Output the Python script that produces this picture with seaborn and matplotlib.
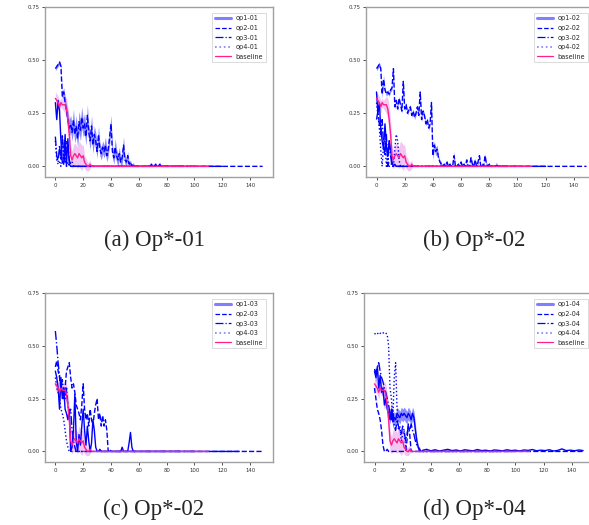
import matplotlib
matplotlib.use('Agg')
import numpy as np
import matplotlib.pyplot as plt
import seaborn as sns
from matplotlib.lines import Line2D

# axis ticks and captions
x_ticks = [0, 20, 40, 60, 80, 100, 120, 140]
y_ticks = [0.00, 0.25, 0.50, 0.75]
captions = ['(a) Op*-01', '(b) Op*-02', '(c) Op*-02', '(d) Op*-04']
suffixes = ['01', '02', '03', '04']

# baseline is the same run in every panel
baseline = [0.32, 0.31, 0.30, 0.28, 0.30, 0.29, 0.29, 0.29, 0.27, 0.22, 0.15,
            0.05, 0.03, 0.05, 0.06, 0.05, 0.04, 0.06, 0.05, 0.04, 0.05, 0.02,
            0.01, 0.0, 0.0, 0.01, 0.0]
baseline_err = [0.03, 0.03, 0.03, 0.03, 0.02, 0.02, 0.03, 0.04, 0.05, 0.06,
                0.07, 0.05, 0.04, 0.05, 0.05, 0.05, 0.05, 0.06, 0.06, 0.06,
                0.05, 0.03, 0.03, 0.02, 0.02, 0.02, 0.0]
baseline_end = 110

# (a) op*-01
a_op1 = [0.30, 0.22, 0.31, 0.26, 0.12, 0.02, 0.01, 0.15, 0.0, 0.13, 0.01, 0.0]
a_op2 = [0.46, 0.47, 0.48, 0.49, 0.47, 0.33, 0.35, 0.30, 0.26, 0.22, 0.18,
         0.20, 0.16, 0.22, 0.15, 0.19, 0.13, 0.21, 0.17, 0.23, 0.18, 0.20,
         0.14, 0.24, 0.16, 0.12, 0.19, 0.10, 0.15, 0.12, 0.07, 0.15, 0.08,
         0.06, 0.09, 0.07, 0.10, 0.05, 0.08, 0.14, 0.20, 0.07, 0.04, 0.09,
         0.05, 0.03, 0.06, 0.02, 0.04, 0.10, 0.03, 0.02, 0.05, 0.01, 0.02,
         0.0, 0.01, 0.0, 0.0, 0.0, 0.0, 0.0, 0.0, 0.0, 0.0, 0.0, 0.0, 0.0,
         0.0, 0.01, 0.0, 0.0, 0.01, 0.0, 0.0, 0.01, 0.0, 0.0]
a_op2_err = [0.01, 0.01, 0.01, 0.01, 0.01, 0.02, 0.02, 0.03, 0.03, 0.04, 0.04,
             0.04, 0.04, 0.05, 0.04, 0.05, 0.04, 0.05, 0.05, 0.05, 0.04, 0.05,
             0.04, 0.05, 0.04, 0.04, 0.05, 0.04, 0.04, 0.04, 0.03, 0.04, 0.03,
             0.03, 0.03, 0.03, 0.04, 0.03, 0.03, 0.04, 0.04, 0.03, 0.03, 0.04,
             0.03, 0.03, 0.03, 0.02, 0.03, 0.04, 0.02, 0.02, 0.02, 0.01, 0.01,
             0.0, 0.01, 0.0, 0.0, 0.0, 0.0, 0.0, 0.0, 0.0, 0.0, 0.0, 0.0, 0.0,
             0.0, 0.01, 0.0, 0.0, 0.01, 0.0, 0.0, 0.01, 0.0, 0.0]
a_op3 = [0.14, 0.05, 0.02, 0.10, 0.03, 0.15, 0.06, 0.02, 0.12, 0.10, 0.03,
         0.01, 0.02, 0.0]
a_op4 = [0.12, 0.03, 0.01, 0.02, 0.0, 0.14, 0.02, 0.13, 0.0, 0.02, 0.0]
a_ends = [120, 149, 100, 90]

# (b) op*-02
b_op1 = [0.35, 0.25, 0.30, 0.18, 0.12, 0.08, 0.20, 0.10, 0.05, 0.12, 0.08,
         0.02, 0.0, 0.01, 0.0]
b_op2 = [0.46, 0.47, 0.48, 0.46, 0.34, 0.41, 0.36, 0.34, 0.35, 0.34, 0.36,
         0.37, 0.46, 0.28, 0.31, 0.27, 0.32, 0.29, 0.26, 0.40, 0.27, 0.29,
         0.25, 0.27, 0.28, 0.24, 0.26, 0.23, 0.25, 0.28, 0.24, 0.35, 0.22,
         0.26, 0.24, 0.20, 0.22, 0.18, 0.20, 0.30, 0.05, 0.10, 0.07, 0.08,
         0.04, 0.02, 0.01, 0.0, 0.01, 0.0, 0.02, 0.0, 0.01, 0.0, 0.0, 0.05,
         0.0, 0.0, 0.01, 0.0, 0.02, 0.0, 0.01, 0.0, 0.03, 0.0, 0.0, 0.04,
         0.01, 0.0, 0.03, 0.0, 0.02, 0.05, 0.0, 0.01, 0.0, 0.05, 0.01, 0.0,
         0.01, 0.0, 0.0, 0.0, 0.0, 0.01, 0.0]
b_op2_err = [0.01, 0.01, 0.01, 0.01, 0.02, 0.02, 0.01, 0.01, 0.01, 0.01, 0.01,
             0.01, 0.01, 0.01, 0.01, 0.01, 0.01, 0.01, 0.01, 0.01, 0.01, 0.01,
             0.01, 0.01, 0.01, 0.01, 0.01, 0.01, 0.01, 0.01, 0.01, 0.01, 0.01,
             0.01, 0.01, 0.01, 0.01, 0.01, 0.01, 0.02, 0.02, 0.02, 0.02, 0.02,
             0.01, 0.01, 0.01, 0.0, 0.01, 0.0, 0.01, 0.0, 0.01, 0.0, 0.0, 0.02,
             0.0, 0.0, 0.01, 0.0, 0.01, 0.0, 0.01, 0.0, 0.01, 0.0, 0.0, 0.01,
             0.01, 0.0, 0.01, 0.0, 0.01, 0.01, 0.0, 0.01, 0.0, 0.01, 0.01, 0.0,
             0.01, 0.0, 0.0, 0.0, 0.0, 0.01, 0.0]
b_op3 = [0.22, 0.26, 0.20, 0.15, 0.22, 0.10, 0.05, 0.15, 0.0, 0.12, 0.05, 0.0]
b_op4 = [0.30, 0.24, 0.18, 0.08, 0.0, 0.10, 0.12, 0.0, 0.05, 0.0, 0.0, 0.02,
         0.0, 0.08, 0.15, 0.12, 0.03, 0.0]
b_ends = [120, 149, 100, 90]

# (c) op*-03
c_op1 = [0.38, 0.35, 0.30, 0.20, 0.35, 0.25, 0.30, 0.20, 0.18, 0.15, 0.20,
         0.0, 0.02, 0.10, 0.27, 0.05, 0.0, 0.08, 0.03, 0.12, 0.20, 0.10, 0.03,
         0.12, 0.05, 0.0, 0.04, 0.15, 0.10, 0.02, 0.0, 0.0, 0.01, 0.0, 0.0,
         0.0, 0.0, 0.0, 0.0, 0.0, 0.0, 0.0, 0.0, 0.0, 0.0, 0.0, 0.0, 0.0,
         0.02, 0.0, 0.0, 0.0, 0.0, 0.04, 0.09, 0.02, 0.0]
c_op2 = [0.40, 0.43, 0.38, 0.35, 0.30, 0.28, 0.25, 0.30, 0.38, 0.40, 0.42,
         0.35, 0.30, 0.32, 0.28, 0.22, 0.20, 0.18, 0.15, 0.22, 0.32, 0.20,
         0.15, 0.18, 0.12, 0.20, 0.15, 0.12, 0.18, 0.22, 0.25, 0.15, 0.18,
         0.12, 0.17, 0.12, 0.15, 0.10, 0.0, 0.01, 0.0]
c_op3 = [0.57, 0.50, 0.42, 0.36, 0.30, 0.34, 0.28, 0.25, 0.30, 0.22, 0.18,
         0.20, 0.10, 0.05, 0.02, 0.0]
c_op4 = [0.35, 0.30, 0.28, 0.25, 0.20, 0.18, 0.15, 0.10, 0.05, 0.02, 0.0]
c_ends = [132, 149, 100, 90]

# (d) op*-04
d_op1 = [0.38, 0.35, 0.40, 0.30, 0.36, 0.28, 0.30, 0.22, 0.25, 0.20, 0.18,
         0.15, 0.20, 0.14, 0.16, 0.15, 0.18, 0.17, 0.16, 0.18, 0.17, 0.18,
         0.17, 0.16, 0.18, 0.17, 0.15, 0.18, 0.16, 0.10, 0.05, 0.02, 0.01,
         0.0]
d_op1_err = [0.02, 0.02, 0.02, 0.02, 0.02, 0.02, 0.02, 0.02, 0.02, 0.02,
             0.02, 0.02, 0.03, 0.03, 0.03, 0.03, 0.03, 0.03, 0.03, 0.03, 0.03,
             0.03, 0.03, 0.03, 0.03, 0.03, 0.03, 0.03, 0.03, 0.03, 0.02, 0.01,
             0.01, 0.0]
d_tail_steps = list(range(34, 149, 3))
d_tail = [0.005, 0.01, 0.003, 0.008, 0.002, 0.006, 0.01, 0.004, 0.007, 0.002,
          0.008, 0.005, 0.003, 0.009, 0.004, 0.006, 0.002, 0.007, 0.005,
          0.003, 0.008, 0.004, 0.006, 0.002, 0.007, 0.005, 0.009, 0.003,
          0.006, 0.004, 0.008, 0.002, 0.005, 0.012, 0.004, 0.006, 0.003,
          0.007, 0.004]
d_op2 = [0.30, 0.25, 0.20, 0.18, 0.15, 0.10, 0.03, 0.0, 0.0, 0.01, 0.0, 0.0,
         0.0, 0.0, 0.0, 0.0, 0.0, 0.0, 0.0, 0.0, 0.0, 0.0, 0.0, 0.05, 0.13,
         0.08, 0.0]
d_op3 = [0.39, 0.37, 0.40, 0.42, 0.38, 0.35, 0.33, 0.30, 0.28, 0.25, 0.22,
         0.18, 0.15, 0.20, 0.12, 0.10, 0.15, 0.12, 0.10, 0.08, 0.12, 0.10,
         0.05, 0.08, 0.12, 0.10, 0.13, 0.10, 0.08, 0.05, 0.03, 0.02, 0.0]
d_op4 = [0.555, 0.56, 0.555, 0.565, 0.56, 0.555, 0.56, 0.565, 0.56, 0.555,
         0.50, 0.30, 0.25, 0.15, 0.35, 0.42, 0.20, 0.10, 0.12, 0.05, 0.08,
         0.10, 0.03, 0.0]
d_ends = [None, 149, 100, 90]

panels = [
    ([a_op1, a_op2, a_op3, a_op4], [None, a_op2_err, None, None], a_ends),
    ([b_op1, b_op2, b_op3, b_op4], [None, b_op2_err, None, None], b_ends),
    ([c_op1, c_op2, c_op3, c_op4], [None, None, None, None], c_ends),
    ([d_op1, d_op2, d_op3, d_op4], [d_op1_err, None, None, None], d_ends),
]

styles = ['-', '--', '-.', ':']
blue = '#0000ff'
pink = '#ff1f8e'

sns.set_style('white')
plt.rcParams['font.family'] = ['DejaVu Sans']

fig = plt.figure(figsize=(5.89, 5.25), dpi=100)
W, H = 589.0, 525.0
boxes = [[0.0764, 0.6629, 0.3871, 0.3238],
         [0.6214, 0.6629, 0.3922, 0.3238],
         [0.0764, 0.1200, 0.3871, 0.3219],
         [0.6180, 0.1200, 0.3922, 0.3219]]
cap_pos = [(0.2615, 0.543), (0.805, 0.543), (0.2615, 0.030), (0.805, 0.030)]


def draw(ax, y, err, end, style, color, steps=None):
    xs = list(range(len(y))) if steps is None else list(steps)
    ys = list(y)
    if end is not None:
        xs.append(end)
        ys.append(0.0)
    sns.lineplot(x=xs, y=ys, ax=ax, color=color, linestyle=style, lw=1.0,
                 estimator=None, sort=False)
    if err is not None:
        m = np.array(y[:len(err)])
        e = np.array(err)
        ax.fill_between(range(len(err)), m - e, m + e, color=color,
                        alpha=0.45, lw=0)


for i, (series, errs, ends) in enumerate(panels):
    ax = fig.add_axes(boxes[i])
    for j in range(4):
        draw(ax, series[j], errs[j], ends[j], styles[j], blue)
    if i == 3:
        draw(ax, d_tail, None, None, '-', blue, steps=d_tail_steps)
    draw(ax, baseline, None, baseline_end, '-', pink)
    ax.fill_between(range(len(baseline)),
                    np.array(baseline) - np.array(baseline_err),
                    np.array(baseline) + np.array(baseline_err),
                    color='#e070e0', alpha=0.4, lw=0)

    ax.set_xlim(-7.45, 156.45)
    ax.set_ylim(-0.05, 0.75)
    ax.set_xticks(x_ticks)
    ax.set_yticks(y_ticks)
    ax.set_yticklabels([f'{v:.2f}' for v in y_ticks])
    ax.tick_params(labelsize=3.9, length=2, width=0.6, colors='#333333',
                   pad=2)
    ax.tick_params(axis='both', which='both', bottom=True, left=True)
    for sp in ax.spines.values():
        sp.set_color('#a0a0a0')
        sp.set_linewidth(1.0)

    s = suffixes[i]
    handles = [
        Line2D([], [], color=blue, lw=2.2, alpha=0.5, ls='-'),
        Line2D([], [], color=blue, lw=0.9, ls='--'),
        Line2D([], [], color=blue, lw=0.9, ls='-.'),
        Line2D([], [], color=blue, lw=1.2, alpha=0.5, ls=':'),
        Line2D([], [], color=pink, lw=0.9, ls='-'),
    ]
    labels = [f'op1-{s}', f'op2-{s}', f'op3-{s}', f'op4-{s}', 'baseline']
    # keep the legend text inside the figure where the axes run off the edge
    x0, _, w, _ = boxes[i]
    right_px = min((x0 + w) * W - 4, 591)
    anchor_x = (right_px / W - x0) / w
    leg = ax.legend(handles, labels, loc='upper right', fontsize=4.7,
                    frameon=True, handlelength=2.5, handletextpad=0.7,
                    borderpad=0.4, labelspacing=0.55, fancybox=False,
                    bbox_to_anchor=(anchor_x, 0.985))
    leg.get_frame().set_edgecolor('#cccccc')
    leg.get_frame().set_linewidth(0.6)

    fig.text(cap_pos[i][0], cap_pos[i][1], captions[i], ha='center',
             va='center', fontsize=16.5, family='Liberation Serif')

fig.savefig('out.png', dpi=100)
